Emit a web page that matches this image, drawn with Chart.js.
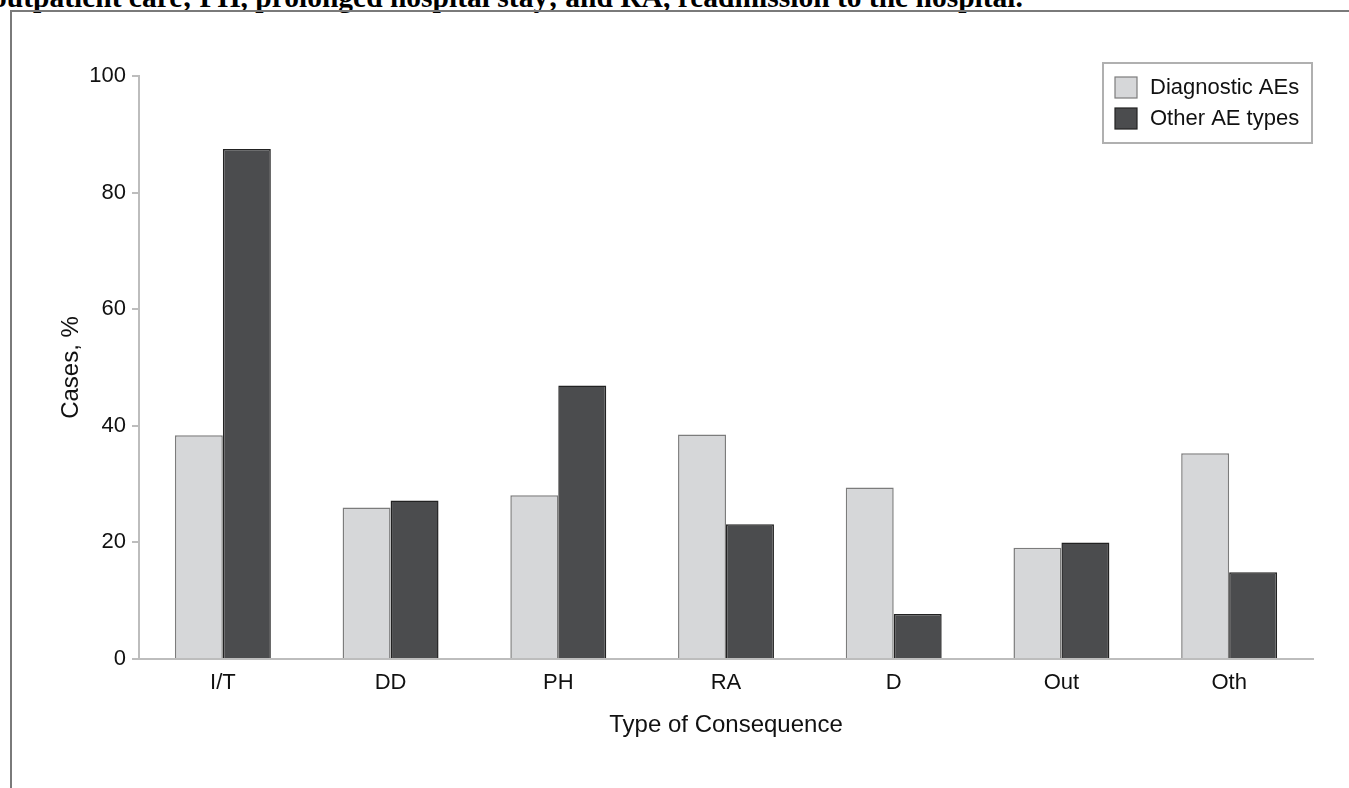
<!DOCTYPE html>
<html>
<head>
<meta charset="utf-8">
<script src="https://cdn.jsdelivr.net/npm/chart.js@4.4.1/dist/chart.umd.min.js"></script>
<style>
  html, body { margin: 0; padding: 0; background: #fff; overflow: hidden; }
  body { width: 1349px; height: 788px; position: relative; }
  #caption {
    position: absolute; left: -8px; top: -17px; white-space: nowrap;
    font-family: 'Liberation Serif', 'Times New Roman', serif; font-weight: bold;
    font-size: 29.5px; line-height: 29.5px; color: #000;
  }
  #frame {
    position: absolute; left: 10px; top: 10px; width: 1400px; height: 900px;
    border-left: 2px solid #7a7a7a; border-top: 2px solid #7a7a7a;
  }
  #wrap { position: absolute; left: 0; top: 0; width: 1349px; height: 788px; }
</style>
</head>
<body>
<div id="caption">outpatient care; PH, prolonged hospital stay; and RA, readmission to the hospital.</div>
<div id="frame"></div>
<div id="wrap"><canvas id="c" width="1349" height="788"></canvas></div>
<script>
const categories = ['I/T', 'DD', 'PH', 'RA', 'D', 'Out', 'Oth'];
const diagnosticAEs = [38.4, 26.0, 28.1, 38.5, 29.4, 19.1, 35.3];
const otherAETypes = [87.5, 27.2, 46.9, 23.1, 7.7, 20.0, 14.9];
const yTicks = [0, 20, 40, 60, 80, 100];
const seriesNames = ['Diagnostic AEs', 'Other AE types'];

const FONT = "'Liberation Sans', Arial, sans-serif";
const AXIS_COLOR = '#bdbdbd';

const boxedLegend = {
  id: 'boxedLegend',
  afterDraw(chart) {
    const ctx = chart.ctx;
    const area = chart.chartArea;
    const right = area.right - 1, top = area.top - 13;
    const w = 209, h = 80;
    const left = right - w;
    ctx.save();
    ctx.strokeStyle = '#b0b0b0';
    ctx.lineWidth = 2;
    ctx.strokeRect(left, top, w, h);
    ctx.font = '22px ' + FONT;
    ctx.textBaseline = 'middle';
    ctx.textAlign = 'left';
    chart.data.datasets.forEach((ds, i) => {
      const sy = top + 14 + i * 31;
      ctx.fillStyle = ds.backgroundColor;
      ctx.fillRect(left + 12, sy, 22, 21);
      ctx.strokeStyle = ds.borderColor;
      ctx.lineWidth = 1.2;
      ctx.strokeRect(left + 12, sy, 22, 21);
      ctx.fillStyle = '#111';
      ctx.fillText(ds.label, left + 47, sy + 11);
    });
    ctx.restore();
  }
};

new Chart(document.getElementById('c'), {
  type: 'bar',
  data: {
    labels: categories,
    datasets: [
      { label: seriesNames[0], data: diagnosticAEs, backgroundColor: '#d6d7d9', borderColor: '#7c7c7c', borderWidth: 1.5 },
      { label: seriesNames[1], data: otherAETypes, backgroundColor: '#4b4c4e', borderColor: '#222222', borderWidth: 1.5 }
    ]
  },
  options: {
    responsive: false,
    animation: false,
    devicePixelRatio: 1,
    layout: { padding: { left: 0, top: 76, right: 36, bottom: 29 } },
    plugins: { legend: { display: false }, tooltip: { enabled: false } },
    datasets: { bar: { categoryPercentage: 0.572, barPercentage: 1.0 } },
    scales: {
      x: {
        grid: { display: true, drawOnChartArea: false, drawTicks: false, color: AXIS_COLOR },
        border: { display: true, color: AXIS_COLOR, width: 2 },
        ticks: { color: '#111', font: { family: FONT, size: 22 }, padding: 11, maxRotation: 0 },
        title: { display: true, text: 'Type of Consequence', color: '#111', font: { family: FONT, size: 24 }, padding: { top: 0, bottom: 19 } },
        afterFit(scale) { scale.height = 100; }
      },
      y: {
        min: 0, max: 100,
        afterBuildTicks(scale) { scale.ticks = yTicks.map(v => ({ value: v })); },
        grid: { display: true, drawOnChartArea: false, drawTicks: true, tickLength: 7, color: AXIS_COLOR, lineWidth: 2 },
        border: { display: true, color: AXIS_COLOR, width: 2 },
        ticks: { color: '#111', font: { family: FONT, size: 22 }, padding: 6 },
        title: { display: true, text: 'Cases, %', color: '#111', font: { family: FONT, size: 24 }, padding: { top: 57, bottom: 0 } },
        afterFit(scale) { scale.width = 139; }
      }
    }
  },
  plugins: [boxedLegend]
});
</script>
</body>
</html>
